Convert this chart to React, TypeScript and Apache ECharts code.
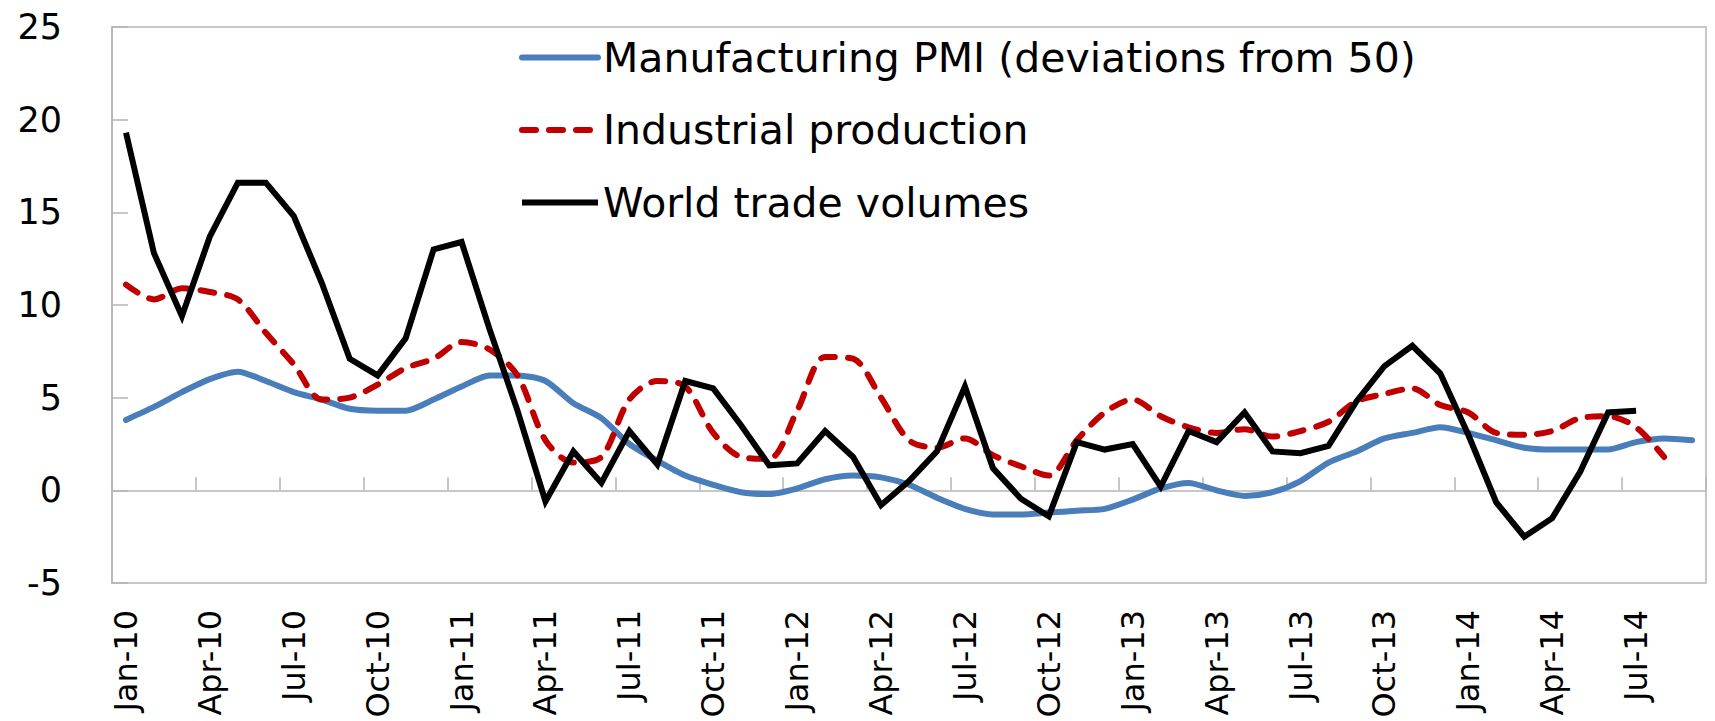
import React, { useEffect, useRef } from "react";
import * as echarts from "echarts";

const months: string[] = [
  "Jan-10","Feb-10","Mar-10","Apr-10","May-10","Jun-10","Jul-10","Aug-10","Sep-10","Oct-10","Nov-10","Dec-10",
  "Jan-11","Feb-11","Mar-11","Apr-11","May-11","Jun-11","Jul-11","Aug-11","Sep-11","Oct-11","Nov-11","Dec-11",
  "Jan-12","Feb-12","Mar-12","Apr-12","May-12","Jun-12","Jul-12","Aug-12","Sep-12","Oct-12","Nov-12","Dec-12",
  "Jan-13","Feb-13","Mar-13","Apr-13","May-13","Jun-13","Jul-13","Aug-13","Sep-13","Oct-13","Nov-13","Dec-13",
  "Jan-14","Feb-14","Mar-14","Apr-14","May-14","Jun-14","Jul-14","Aug-14","Sep-14",
];

const pmi: (number | null)[] = [
  3.8, 4.5, 5.3, 6.0, 6.4, 5.9, 5.3, 4.9, 4.4, 4.3, 4.3, 4.9,
  5.6, 6.2, 6.2, 5.9, 4.7, 3.9, 2.5, 1.6, 0.8, 0.3, -0.1, -0.2,
  0.1, 0.6, 0.8, 0.7, 0.3, -0.4, -1.0, -1.3, -1.3, -1.2, -1.1, -1.0,
  -0.5, 0.1, 0.4, 0.0, -0.3, -0.1, 0.5, 1.5, 2.1, 2.8, 3.1, 3.4,
  3.1, 2.7, 2.3, 2.2, 2.2, 2.2, 2.6, 2.8, 2.7,
];

const industrial: (number | null)[] = [
  11.1, 10.3, 10.9, 10.7, 10.3, 8.5, 6.8, 4.9, 5.0, 5.7, 6.6, 7.1,
  8.0, 7.6, 6.2, 2.7, 1.5, 1.8, 4.9, 5.9, 5.6, 3.1, 1.8, 1.7,
  4.3, 7.2, 7.1, 5.0, 2.7, 2.3, 2.8, 1.9, 1.3, 0.8, 2.7, 4.2,
  4.9, 4.0, 3.4, 3.1, 3.3, 2.9, 3.2, 3.7, 4.8, 5.2, 5.5, 4.6,
  4.2, 3.1, 3.0, 3.2, 3.9, 4.0, 3.4, 1.8, null,
];

const worldTrade: (number | null)[] = [
  19.3, 12.8, 9.4, 13.7, 16.6, 16.6, 14.8, 11.2, 7.1, 6.2, 8.2, 13.0,
  13.4, 8.7, 4.3, -0.6, 2.1, 0.4, 3.2, 1.4, 5.9, 5.5, 3.5, 1.35,
  1.45, 3.2, 1.8, -0.8, 0.5, 2.1, 5.6, 1.2, -0.45, -1.4, 2.6, 2.2,
  2.5, 0.2, 3.2, 2.6, 4.2, 2.1, 2.0, 2.4, 4.8, 6.7, 7.8, 6.3,
  3.0, -0.65, -2.5, -1.5, 1.0, 4.2, 4.3, null, null,
];

const seriesNames = [
  "Manufacturing PMI (deviations from 50)",
  "Industrial production",
  "World trade volumes",
];

const FONT = "DejaVu Sans";
const GREY = "#B5B5B5";

export default function App() {
  const ref = useRef<HTMLDivElement>(null);
  useEffect(() => {
    document.body.style.margin = "0";
    if (!ref.current) return;
    const chart = echarts.init(ref.current, undefined, { renderer: "svg" });
    chart.setOption({
      animation: false,
      backgroundColor: "#ffffff",
      grid: {
        left: 112,
        top: 27,
        right: 9,
        bottom: 138,
        show: true,
        borderColor: GREY,
        borderWidth: 1.5,
        backgroundColor: "transparent",
      },
      legend: {
        orient: "vertical",
        left: 514,
        top: 32,
        itemWidth: 76,
        itemHeight: 14,
        itemGap: 31.5,
        lineStyle: { width: 6 },
        itemStyle: { opacity: 0, borderWidth: 0 },
        textStyle: { fontFamily: FONT, fontSize: 41, lineHeight: 40, color: "#000" },
        data: seriesNames,
      },
      xAxis: [
        {
          type: "category",
          data: months,
          position: "bottom",
          boundaryGap: true,
          axisLine: { show: false, onZero: false },
          axisTick: { show: false },
          axisLabel: {
            interval: 2,
            rotate: 90,
            margin: 27,
            fontFamily: FONT,
            fontSize: 32,
            color: "#000",
          },
          splitLine: { show: false },
        },
        {
          type: "category",
          data: months,
          position: "bottom",
          boundaryGap: true,
          axisLine: { show: true, onZero: true, lineStyle: { color: GREY, width: 1.5 } },
          axisTick: { show: true, inside: true, interval: 2, length: 13, lineStyle: { color: GREY, width: 1.5 } },
          axisLabel: { show: false },
          splitLine: { show: false },
        },
      ],
      yAxis: {
        type: "value",
        min: -5,
        max: 25,
        interval: 5,
        axisLine: { show: true, lineStyle: { color: GREY, width: 1.5 } },
        axisTick: { show: true, inside: true, length: 16, lineStyle: { color: GREY, width: 1.5 } },
        axisLabel: { fontFamily: FONT, fontSize: 35, color: "#000", margin: 50 },
        splitLine: { show: false },
      },
      series: [
        {
          name: seriesNames[0],
          type: "line",
          data: pmi,
          symbol: "none",
          smooth: 0.25,
          lineStyle: { color: "#4A7EBB", width: 6, cap: "round", join: "round" },
          itemStyle: { color: "#4A7EBB" },
          z: 2,
        },
        {
          name: seriesNames[1],
          type: "line",
          data: industrial,
          symbol: "none",
          smooth: 0.3,
          lineStyle: { color: "#C00000", width: 6, type: [14, 13], cap: "round", join: "round" },
          itemStyle: { color: "#C00000" },
          z: 3,
        },
        {
          name: seriesNames[2],
          type: "line",
          data: worldTrade,
          symbol: "none",
          lineStyle: { color: "#000000", width: 6, cap: "butt", join: "miter" },
          itemStyle: { color: "#000000" },
          z: 4,
        },
      ],
    });
    return () => chart.dispose();
  }, []);
  return <div ref={ref} style={{ width: 1715, height: 721 }} />;
}
